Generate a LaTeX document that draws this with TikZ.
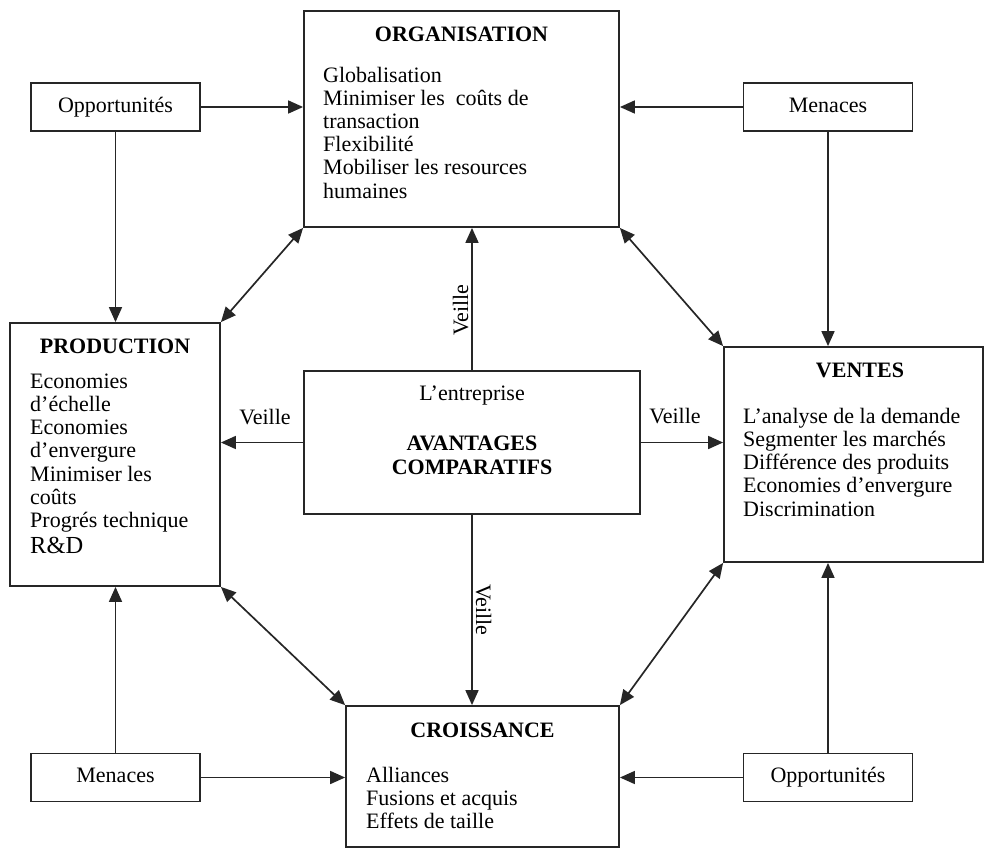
\documentclass[tikz,border=0pt]{standalone}
\usepackage{fontspec}
\setmainfont{Liberation Serif}
\usetikzlibrary{arrows.meta}
\begin{document}
\begin{tikzpicture}[x=1pt,y=-1pt,
  frame/.style={draw=black!85, line width=1.8pt, inner sep=0pt},
  smallbox/.style={frame, minimum width=169, minimum height=48,
    font=\fontsize{22}{23.2}\selectfont, text height=15pt, text depth=5pt},
  tx/.style={inner sep=0pt, font=\fontsize{22}{23.2}\selectfont, anchor=base west},
  ttl/.style={inner sep=0pt, font=\fontsize{22}{23.2}\selectfont\bfseries, anchor=base},
  lbl/.style={inner sep=0pt, font=\fontsize{22}{23.2}\selectfont, anchor=base},
  arr/.style={draw=black!85, line width=1.7pt, -{Triangle[length=15pt,width=13pt]}},
  dbl/.style={draw=black!85, line width=1.7pt,
    {Triangle[length=15pt,width=13pt]}-{Triangle[length=15pt,width=13pt]}}
]
\useasboundingbox (0,0) rectangle (984,849);

% main boxes
\node[frame, minimum width=315, minimum height=216] (org) at (461.5,119) {};
\node[frame, minimum width=210, minimum height=263] (prod) at (115,454.5) {};
\node[frame, minimum width=259, minimum height=215] (ventes) at (853.5,454.5) {};
\node[frame, minimum width=336, minimum height=143] (ctr) at (472,442.5) {};
\node[frame, minimum width=273, minimum height=141] (crois) at (482.5,776.5) {};

% environment boxes
\node[smallbox] (oppT) at (115.5,107) {Opportunités};
\node[smallbox] (menT) at (828,107) {Menaces};
\node[smallbox] (menB) at (115.5,777.5) {Menaces};
\node[smallbox] (oppB) at (828,777.5) {Opportunités};

% ORGANISATION
\node[ttl] (org-t) at (461.5,41) {ORGANISATION};
\foreach \t [count=\i from 0] in {Globalisation, Minimiser les~ coûts de, transaction,
    Flexibilité, Mobiliser les resources, humaines}
  \node[tx] (org-\i) at (323,{82.5+23.1*\i}) {\t};

% PRODUCTION
\node[ttl] (prod-t) at (115,353) {PRODUCTION};
\foreach \t [count=\i from 0] in {Economies, d’échelle, Economies, d’envergure,
    Minimiser les, coûts, Progrés technique}
  \node[tx] (prod-\i) at (30,{388+23.3*\i}) {\t};
\node[tx, font=\fontsize{24.5}{26}\selectfont] (prod-rd) at (30,553) {R\&D};

% VENTES
\node[ttl] (ventes-t) at (860,377) {VENTES};
\foreach \t [count=\i from 0] in {L’analyse de la demande, Segmenter les marchés,
    Différence des produits, Economies d’envergure, Discrimination}
  \node[tx] (ventes-\i) at (743,{423+23.3*\i}) {\t};

% centre
\node[lbl] (ctr-a) at (472,400) {L’entreprise};
\node[ttl] (ctr-b) at (472,450) {AVANTAGES};
\node[ttl] (ctr-c) at (472,474) {COMPARATIFS};

% CROISSANCE
\node[ttl] (crois-t) at (482.5,737) {CROISSANCE};
\foreach \t [count=\i from 0] in {Alliances, Fusions et acquis, Effets de taille}
  \node[tx] (crois-\i) at (366,{782+23*\i}) {\t};

% opportunities and threats
\draw[arr] (oppT.east) -- (oppT.east -| org.west);
\draw[arr] (oppT.south) -- (oppT.south |- prod.north);
\draw[arr] (menT.west) -- (menT.west -| org.east);
\draw[arr] (menT.south) -- (menT.south |- ventes.north);
\draw[arr] (menB.north) -- (menB.north |- prod.south);
\draw[arr] (menB.east) -- (menB.east -| crois.west);
\draw[arr] (oppB.west) -- (oppB.west -| crois.east);
\draw[arr] (oppB.north) -- (oppB.north |- ventes.south);

% watch links from the firm
\draw[arr] (ctr.north) -- (ctr.north |- org.south);
\draw[arr] (ctr.south) -- (ctr.south |- crois.north);
\draw[arr] (ctr.west) -- (ctr.west -| prod.east);
\draw[arr] (ctr.east) -- (ctr.east -| ventes.west);
\node[lbl] (v-left) at (265,424) {Veille};
\node[lbl] (v-right) at (675,423) {Veille};
\node[lbl, rotate=90] (v-up) at (468,310) {Veille};
\node[lbl, rotate=-90] (v-down) at (476,610) {Veille};

% links between the four functions
\draw[dbl] (org.south west) -- (prod.north east);
\draw[dbl] (org.south east) -- (ventes.north west);
\draw[dbl] (prod.south east) -- (crois.north west);
\draw[dbl] (ventes.south west) -- (crois.north east);
\end{tikzpicture}
\end{document}
